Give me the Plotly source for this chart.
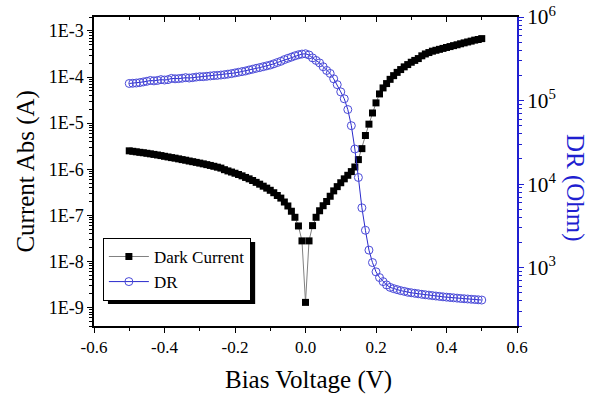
import plotly.graph_objects as go

# Bias voltage (V), -0.50 .. 0.50, 101 points
bias_voltage = [round(-0.50 + 0.01 * i, 2) for i in range(101)]

# Dark current (A), absolute value
dark_current = [
    2.51e-6, 2.45e-6, 2.39e-6, 2.33e-6, 2.28e-6, 2.22e-6, 2.16e-6, 2.10e-6, 2.04e-6, 1.98e-6,
    1.91e-6, 1.85e-6, 1.79e-6, 1.74e-6, 1.68e-6, 1.62e-6, 1.57e-6, 1.51e-6, 1.46e-6, 1.41e-6,
    1.36e-6, 1.31e-6, 1.26e-6, 1.21e-6, 1.16e-6, 1.11e-6, 1.06e-6, 9.8e-7, 9.2e-7, 8.7e-7,
    8.2e-7, 7.7e-7, 7.2e-7, 6.65e-7, 6.2e-7, 5.7e-7, 5.2e-7, 4.75e-7, 4.3e-7, 3.9e-7,
    3.5e-7, 3.1e-7, 2.7e-7, 2.37e-7, 1.95e-7, 1.6e-7, 1.23e-7, 9.1e-8, 5.9e-8, 2.8e-8,
    1.3e-9,
    2.8e-8, 6.0e-8, 9.1e-8, 1.26e-7, 1.62e-7, 2.0e-7, 2.6e-7, 3.4e-7, 4.2e-7, 5.1e-7,
    6.2e-7, 7.4e-7, 8.9e-7, 1.12e-6, 1.62e-6, 2.8e-6, 5.4e-6, 9.5e-6, 1.66e-5, 2.75e-5,
    4.3e-5, 5.8e-5, 7.2e-5, 8.9e-5, 1.07e-4, 1.26e-4, 1.45e-4, 1.66e-4, 1.86e-4, 2.09e-4,
    2.29e-4, 2.51e-4, 2.88e-4, 3.16e-4, 3.39e-4, 3.63e-4, 3.8e-4, 3.98e-4, 4.17e-4, 4.37e-4,
    4.57e-4, 4.79e-4, 5.0e-4, 5.25e-4, 5.5e-4, 5.75e-4, 6.0e-4, 6.3e-4, 6.5e-4, 6.8e-4,
]

# Dynamic resistance (Ohm)
dynamic_resistance = [
    1.60e5, 1.61e5, 1.62e5, 1.64e5, 1.67e5, 1.70e5, 1.74e5, 1.72e5, 1.74e5, 1.78e5,
    1.76e5, 1.78e5, 1.84e5, 1.82e5, 1.83e5, 1.85e5, 1.88e5, 1.86e5, 1.88e5, 1.91e5,
    1.93e5, 1.93e5, 1.95e5, 1.97e5, 1.99e5, 2.00e5, 2.02e5, 2.04e5, 2.07e5, 2.10e5,
    2.14e5, 2.18e5, 2.22e5, 2.26e5, 2.32e5, 2.37e5, 2.43e5, 2.48e5, 2.54e5, 2.60e5,
    2.66e5, 2.75e5, 2.85e5, 2.95e5, 3.09e5, 3.20e5, 3.31e5, 3.43e5, 3.53e5, 3.60e5,
    3.63e5,
    3.51e5, 3.24e5, 3.02e5, 2.82e5, 2.54e5, 2.29e5, 2.11e5, 1.82e5, 1.55e5, 1.27e5,
    1.05e5, 7.8e4, 5.0e4, 2.63e4, 1.2e4, 5.2e3, 2.8e3, 1.62e3, 1.15e3, 890,
    760, 680, 620, 580, 560, 545, 530, 520, 507, 500,
    493, 486, 479, 473, 468, 462, 457, 452, 447, 443,
    439, 435, 431, 427, 424, 421, 418, 415, 412, 409,
]

left_tick_vals = [1e-9, 1e-8, 1e-7, 1e-6, 1e-5, 1e-4, 1e-3]
left_tick_text = ["1E-9", "1E-8", "1E-7", "1E-6", "1E-5", "1E-4", "1E-3"]
x_tick_vals = [-0.6, -0.4, -0.2, 0.0, 0.2, 0.4, 0.6]
x_tick_text = ["-0.6", "-0.4", "-0.2", "0.0", "0.2", "0.4", "0.6"]

SERIF = "Liberation Serif"
BLUE = "#1f1fd0"
CIRCLE = "#4a4ad8"

fig = go.Figure()
fig.add_trace(go.Scatter(
    x=bias_voltage, y=dark_current, name="Dark Current", mode="lines+markers",
    line=dict(color="#808080", width=1),
    marker=dict(symbol="square", size=7, color="black"),
    yaxis="y",
))
fig.add_trace(go.Scatter(
    x=bias_voltage, y=dynamic_resistance, name="DR", mode="lines+markers",
    line=dict(color="#2a2acc", width=1),
    marker=dict(symbol="circle-open", size=8, color=CIRCLE, line=dict(width=1, color=CIRCLE)),
    yaxis="y2",
))
# invisible trace for the top axis
fig.add_trace(go.Scatter(x=[0], y=[1e-6], xaxis="x2", yaxis="y", mode="markers",
                         marker=dict(opacity=0), showlegend=False, hoverinfo="skip"))

fig.update_layout(
    template="none",
    width=600, height=405,
    margin=dict(l=94, r=83, t=17, b=79, autoexpand=False),
    paper_bgcolor="white", plot_bgcolor="white",
    font=dict(family=SERIF, size=16, color="black"),
    showlegend=True,
    legend=dict(
        x=0.021, y=0.285, xanchor="left", yanchor="top",
        bgcolor="white", bordercolor="black", borderwidth=1,
        font=dict(family=SERIF, size=17, color="black"),
        itemwidth=40, tracegroupgap=0,
    ),
    xaxis=dict(
        range=[-0.6, 0.6], tickvals=x_tick_vals, ticktext=x_tick_text, automargin=False,
        showgrid=False, zeroline=False, showline=True, linecolor="black", linewidth=1.5,
        ticks="outside", ticklen=5, tickwidth=1.2, tickcolor="black",
        minor=dict(dtick=0.1, tick0=-0.6, ticks="outside", ticklen=3, tickcolor="black", tickwidth=1),
        tickfont=dict(family=SERIF, size=17),
    ),
    xaxis2=dict(
        range=[-0.6, 0.6], overlaying="x", side="top", anchor="y", automargin=False,
        tickvals=x_tick_vals, showticklabels=False,
        showgrid=False, zeroline=False, showline=True, linecolor="black", linewidth=1.5,
        ticks="inside", ticklen=5, tickwidth=1.2, tickcolor="black",
        minor=dict(dtick=0.1, tick0=-0.6, ticks="inside", ticklen=3, tickcolor="black", tickwidth=1),
    ),
    yaxis=dict(
        type="log", range=[-9.398, -2.699], automargin=False,
        tickvals=left_tick_vals, ticktext=left_tick_text,
        showgrid=False, zeroline=False, showline=True, linecolor="black", linewidth=1.5,
        ticks="outside", ticklen=5, tickwidth=1.2, tickcolor="black",
        minor=dict(dtick="D1", ticks="outside", ticklen=3, tickcolor="black", tickwidth=1),
        tickfont=dict(family=SERIF, size=18),
    ),
    yaxis2=dict(
        type="log", range=[2.301, 6.0], overlaying="y", side="right", anchor="x", automargin=False,
        dtick=1, exponentformat="power",
        showgrid=False, zeroline=False, showline=True, linecolor=BLUE, linewidth=1.5,
        ticks="outside", ticklen=5, tickwidth=1.2, tickcolor=BLUE,
        minor=dict(dtick="D1", ticks="outside", ticklen=3, tickcolor=BLUE, tickwidth=1),
        tickfont=dict(family=SERIF, size=17, color="black"),
    ),
    annotations=[
        dict(text="Bias Voltage (V)", xref="paper", yref="paper", x=0.506, y=-0.175,
             xanchor="center", yanchor="middle",
             showarrow=False, font=dict(family=SERIF, size=25, color="black")),
        dict(text="Current Abs (A)", xref="paper", yref="paper", x=-0.163, y=0.5,
             xanchor="center", yanchor="middle",
             textangle=-90, showarrow=False, font=dict(family=SERIF, size=25, color="black")),
        dict(text="DR (Ohm)", xref="paper", yref="paper", x=1.137, y=0.447,
             xanchor="center", yanchor="middle",
             textangle=90, showarrow=False, font=dict(family=SERIF, size=25, color=BLUE)),
    ],
    shapes=[
        dict(type="rect", xref="paper", yref="paper", x0=0.033, x1=0.381, y0=0.071, y1=0.272,
             fillcolor="black", line=dict(width=0), layer="above"),
    ],
)

fig.write_html("out.html", post_script="document.body.style.margin='0px';",
               config={"displayModeBar": False})
